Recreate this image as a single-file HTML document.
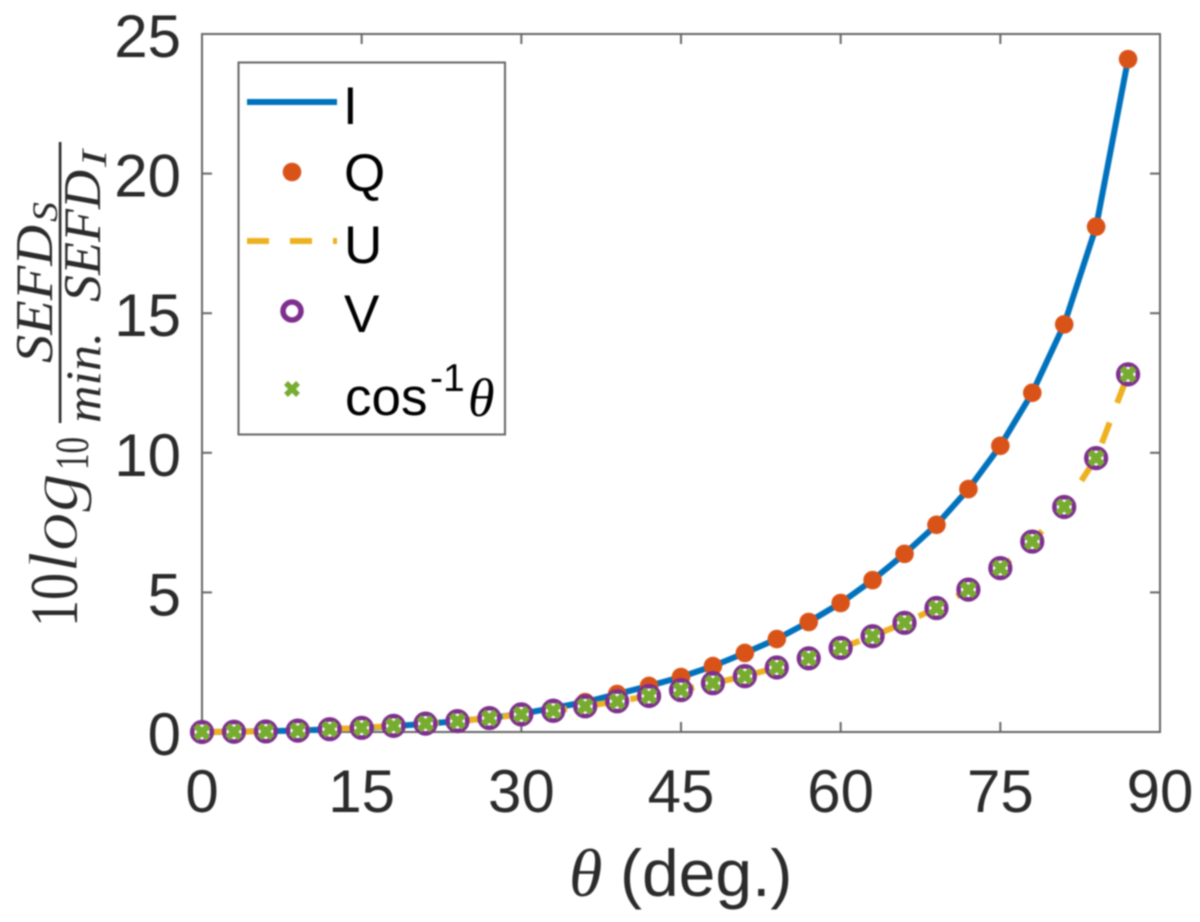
<!DOCTYPE html>
<html lang="en">
<head>
<meta charset="utf-8">
<title>SEFD versus theta</title>
<style>
html,body{margin:0;padding:0;background:#fff;width:1200px;height:922px;overflow:hidden}
svg{display:block;filter:blur(0.7px)}
.tick{font-family:"Liberation Sans",sans-serif;font-size:60px;fill:#2b2b2b}
.leg{font-family:"Liberation Sans",sans-serif;font-size:53px;fill:#000}
.math{font-family:"Liberation Serif",serif;font-style:italic;fill:#2b2b2b}
.upright{font-family:"Liberation Serif",serif;fill:#2b2b2b}
</style>
</head>
<body>
<svg id="chart" xmlns="http://www.w3.org/2000/svg" width="1200" height="922" viewBox="0 0 1200 922">
  <rect x="202" y="34" width="958" height="698" fill="#fff"/>
  <g id="axes"></g>
  <g id="series"></g>

  <g>
    <text class="upright" transform="translate(77 627) rotate(-90)" font-size="68" textLength="54" lengthAdjust="spacingAndGlyphs">10</text>
    <text class="math" transform="translate(77 573) rotate(-90)" font-size="70" textLength="100" lengthAdjust="spacingAndGlyphs" stroke="#fff" stroke-width="1.1">log</text>
    <text class="upright" transform="translate(88 470) rotate(-90)" font-size="48" textLength="33" lengthAdjust="spacingAndGlyphs">10</text>
    <rect x="58.8" y="142" width="2.6" height="281" fill="#2b2b2b"/>
    <text class="math" transform="translate(52 363) rotate(-90)" font-size="53" textLength="138" lengthAdjust="spacingAndGlyphs">SEFD</text>
    <text class="math" transform="translate(57 222) rotate(-90)" font-size="36" textLength="20" lengthAdjust="spacingAndGlyphs">S</text>
    <text class="math" transform="translate(100 423) rotate(-90)" font-size="50" textLength="91" lengthAdjust="spacingAndGlyphs">min.</text>
    <text class="math" transform="translate(100 302) rotate(-90)" font-size="53" textLength="132" lengthAdjust="spacingAndGlyphs">SEFD</text>
    <text class="math" transform="translate(106 167) rotate(-90)" font-size="36" textLength="17" lengthAdjust="spacingAndGlyphs">I</text>
  </g>

  <g>
    <text class="math" x="569" y="896" font-size="68">θ</text>
    <text x="620" y="896" font-family="'Liberation Sans',sans-serif" font-size="66" fill="#2b2b2b">(deg.)</text>
  </g>

  <g>
    <rect x="238.5" y="62.5" width="266.5" height="372" fill="#fff" stroke="#666" stroke-width="2"/>
    <line x1="247" y1="102" x2="337" y2="102" stroke="#0072bd" stroke-width="6"/>
    <text class="leg" x="343" y="124">I</text>
    <circle cx="292" cy="172" r="9.3" fill="#d95319"/>
    <text class="leg" x="344" y="191">Q</text>
    <line x1="247" y1="241" x2="337" y2="241" stroke="#edb120" stroke-width="6" stroke-dasharray="22 21"/>
    <text class="leg" x="344" y="263">U</text>
    <circle cx="292" cy="311" r="9" fill="#fff" stroke="#7e2f8e" stroke-width="5.5"/>
    <text class="leg" x="344" y="332">V</text>
    <g stroke="#77ac30" stroke-width="5.5">
      <line x1="286" y1="383" x2="298" y2="395"/>
      <line x1="298" y1="383" x2="286" y2="395"/>
    </g>
    <text class="leg" x="345" y="415">cos</text>
    <text x="430" y="391" font-family="'Liberation Sans',sans-serif" font-size="39" fill="#000">-1</text>
    <text x="468" y="416" font-family="'Liberation Serif',serif" font-style="italic" font-size="54" fill="#000">θ</text>
  </g>
</svg>
<script>
const angles = [0,3,6,9,12,15,18,21,24,27,30,33,36,39,42,45,48,51,54,57,60,63,66,69,72,75,78,81,84,87];
const seriesI = [0,0.01,0.03,0.05,0.1,0.14,0.21,0.29,0.39,0.5,0.65,0.86,1.07,1.36,1.65,1.97,2.36,2.83,3.33,3.94,4.62,5.44,6.38,7.42,8.7,10.25,12.15,14.6,18.1,24.1];
const seriesQ = [0,0.01,0.03,0.05,0.1,0.14,0.21,0.29,0.39,0.5,0.65,0.86,1.07,1.36,1.65,1.97,2.36,2.83,3.33,3.94,4.62,5.44,6.38,7.42,8.7,10.25,12.15,14.6,18.1,24.1];
const seriesU = [0,0.01,0.02,0.05,0.1,0.15,0.22,0.3,0.39,0.5,0.63,0.76,0.92,1.1,1.29,1.5,1.75,2.0,2.31,2.64,3.01,3.43,3.91,4.44,5.1,5.87,6.82,8.06,9.81,12.81];
const seriesV = [0,0.01,0.02,0.05,0.1,0.15,0.22,0.3,0.39,0.5,0.63,0.76,0.92,1.1,1.29,1.5,1.75,2.0,2.31,2.64,3.01,3.43,3.91,4.44,5.1,5.87,6.82,8.06,9.81,12.81];
const seriesCos = [0,0.01,0.02,0.05,0.1,0.15,0.22,0.3,0.39,0.5,0.63,0.76,0.92,1.1,1.29,1.5,1.75,2.0,2.31,2.64,3.01,3.43,3.91,4.44,5.1,5.87,6.82,8.06,9.81,12.81];
const xTicks = [0,15,30,45,60,75,90];
const yTicks = [0,5,10,15,20,25];

const NS = 'http://www.w3.org/2000/svg';
const plot = {left:202, right:1160, top:34, bottom:732};
const xMax = 90, yMax = 25;
function xScale(v){ return plot.left + (plot.right - plot.left) * v / xMax; }
function yScale(v){ return plot.bottom - (plot.bottom - plot.top) * v / yMax; }
function make(tag, attrs, parent){
  const el = document.createElementNS(NS, tag);
  for (const k in attrs) el.setAttribute(k, attrs[k]);
  parent.appendChild(el);
  return el;
}
function linePoints(vals){
  return vals.map((v,i) => xScale(angles[i]).toFixed(2) + ',' + yScale(v).toFixed(2)).join(' ');
}
const axes = document.getElementById('axes');
const series = document.getElementById('series');
const axisColor = '#666', tickLen = 10;

const box = make('rect', {x:plot.left, y:plot.top, width:plot.right-plot.left, height:plot.bottom-plot.top, fill:'none', stroke:axisColor, 'stroke-width':2}, axes);



xTicks.forEach(t => {
  const x = xScale(t);
  if (t > 0 && t < xMax) {
    const b = make('line', {x1:x, x2:x, y1:plot.bottom, y2:plot.bottom-tickLen, stroke:axisColor, 'stroke-width':2}, axes);
    
    
    const a = make('line', {x1:x, x2:x, y1:plot.top, y2:plot.top+tickLen, stroke:axisColor, 'stroke-width':2}, axes);
    
    
  }
  const label = make('text', {x:x, y:812, 'text-anchor':'middle', class:'tick'}, axes);
  label.textContent = t;
  
  
});
yTicks.forEach(t => {
  const y = yScale(t);
  if (t > 0 && t < yMax) {
    const l = make('line', {x1:plot.left, x2:plot.left+tickLen, y1:y, y2:y, stroke:axisColor, 'stroke-width':2}, axes);
    
    
    const r = make('line', {x1:plot.right, x2:plot.right-tickLen, y1:y, y2:y, stroke:axisColor, 'stroke-width':2}, axes);
    
    
  }
  const label = make('text', {x:181, y:y+23, 'text-anchor':'end', class:'tick'}, axes);
  label.textContent = t;
  
  
});

const lineI = make('polyline', {points:linePoints(seriesI), fill:'none', stroke:'#0072bd', 'stroke-width':6, 'stroke-linejoin':'round'}, series);



seriesQ.forEach((v,i) => {
  const c = make('circle', {cx:xScale(angles[i]), cy:yScale(v), r:9.3, fill:'#d95319'}, series);
  
  
});

const lineU = make('polyline', {points:linePoints(seriesU), fill:'none', stroke:'#edb120', 'stroke-width':6, 'stroke-dasharray':'22 21'}, series);



seriesV.forEach((v,i) => {
  const c = make('circle', {cx:xScale(angles[i]), cy:yScale(v), r:9.8, fill:'#fff', stroke:'#7e2f8e', 'stroke-width':4.6}, series);
  
  
});

seriesCos.forEach((v,i) => {
  const x = xScale(angles[i]), y = yScale(v), d = 6.4;
  const g = make('g', {stroke:'#77ac30', 'stroke-width':6.5}, series);
  
  
  make('line', {x1:x-d, y1:y-d, x2:x+d, y2:y+d}, g);
  make('line', {x1:x+d, y1:y-d, x2:x-d, y2:y+d}, g);
});
</script>
</body>
</html>
